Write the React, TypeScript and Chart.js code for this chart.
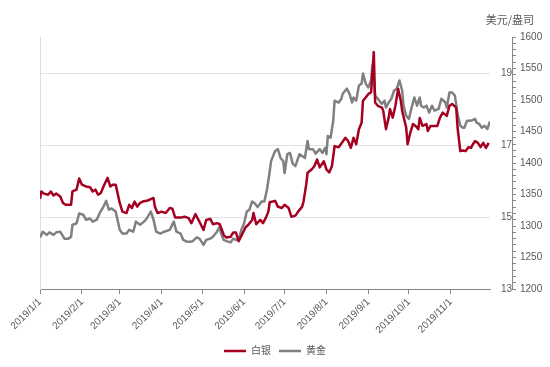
import React, { useEffect, useRef } from "react";
import { Chart, registerables } from "chart.js";

Chart.register(...registerables);

// x positions are days since 2019-01-01
const monthStartDays = [0, 31, 59, 90, 120, 151, 181, 212, 243, 273, 304];
const monthLabels = [
  "2019/1/1", "2019/2/1", "2019/3/1", "2019/4/1", "2019/5/1", "2019/6/1",
  "2019/7/1", "2019/8/1", "2019/9/1", "2019/10/1", "2019/11/1",
];

const silverDays = [
  0, 1, 3, 6, 8, 10, 12, 15, 17, 19, 23, 24, 27, 29, 31, 34, 37, 39, 41, 43, 45, 47, 50, 52, 54, 56,
  59, 61, 64, 66, 68, 70, 72, 74, 76, 79, 81, 84, 85, 87, 90, 93, 96, 98, 100, 102, 105, 107, 110, 112,
  115, 116, 118, 121, 123, 126, 128, 131, 133, 136, 138, 141, 143, 145, 147, 150, 152, 154, 157, 158,
  160, 163, 165, 167, 169, 170, 174, 176, 179, 181, 184, 186, 189, 191, 194, 195, 197, 198, 201, 203,
  205, 207, 210, 212, 214, 216, 218, 221, 223, 226, 228, 230, 232, 234, 236, 238, 239, 241, 243, 245,
  247, 248, 250, 253, 254, 256, 258, 259, 261, 263, 265, 267, 268, 271, 272, 274, 276, 278, 280, 281,
  283, 286, 287, 289, 291, 294, 296, 298, 301, 303, 305, 308, 309, 311, 313, 315, 317, 319, 320, 322,
  324, 326, 328, 330, 332,
];
const silverValues = [
  15.51, 15.71, 15.65, 15.62, 15.71, 15.6, 15.65, 15.57, 15.39, 15.34, 15.34, 15.71, 15.76, 16.07, 15.9,
  15.85, 15.83, 15.71, 15.76, 15.62, 15.67, 15.85, 16.09, 15.85, 15.9, 15.9, 15.39, 15.15, 15.11, 15.34,
  15.25, 15.43, 15.29, 15.39, 15.43, 15.45, 15.48, 15.53, 15.29, 15.11, 15.15, 15.11, 15.25, 15.23,
  14.99, 14.99, 14.99, 15.01, 14.97, 14.83, 15.08, 15.01, 14.87, 14.64, 14.92, 14.95, 14.8, 14.83, 14.8,
  14.5, 14.43, 14.45, 14.57, 14.57, 14.33, 14.55, 14.71, 14.78, 14.92, 15.11, 14.8, 14.92, 14.83, 14.97,
  15.15, 15.41, 15.45, 15.29, 15.25, 15.34, 15.25, 15.01, 15.04, 15.15, 15.29, 15.43, 15.9, 16.23, 16.32,
  16.41, 16.6, 16.38, 16.55, 16.32, 16.24, 16.41, 16.97, 16.94, 17.04, 17.2, 17.11, 16.92, 17.2, 17.02,
  17.44, 17.62, 18.23, 18.32, 18.42, 18.46, 19.58, 18.18, 18.09, 18.04, 17.95, 17.44, 17.76, 18.0,
  17.76, 18.09, 18.56, 18.23, 17.95, 17.48, 17.02, 17.34, 17.58, 17.53, 17.44, 17.75, 17.53, 17.58,
  17.39, 17.53, 17.53, 17.53, 17.76, 17.9, 17.81, 18.09, 18.14, 18.04, 17.48, 16.83, 16.85, 16.83, 16.94,
  16.92, 17.0, 17.11, 17.06, 16.94, 17.06, 16.92, 17.06,
];

const goldDays = [
  0, 2, 5, 7, 10, 12, 15, 18, 21, 23, 24, 27, 29, 32, 34, 37, 39, 42, 44, 47, 49, 51, 53, 56, 59, 61, 64,
  66, 69, 71, 74, 77, 79, 82, 84, 86, 89, 92, 96, 99, 101, 104, 106, 109, 111, 113, 116, 118, 121, 123,
  126, 128, 131, 133, 134, 136, 138, 141, 143, 145, 147, 149, 151, 153, 155, 157, 159, 161, 164, 166,
  168, 170, 171, 174, 176, 178, 180, 181, 183, 185, 187, 189, 192, 194, 196, 198, 199, 202, 204, 207,
  209, 211, 212, 213, 215, 217, 218, 221, 223, 224, 227, 229, 231, 232, 234, 236, 238, 239, 241, 243,
  245, 246, 248, 250, 252, 253, 255, 256, 258, 260, 262, 264, 266, 268, 269, 271, 273, 275, 277, 279,
  281, 282, 284, 286, 288, 290, 292, 295, 297, 300, 301, 303, 305, 307, 309, 311, 313, 314, 316, 318,
  320, 322, 323, 325, 327, 329, 331, 333,
];
const goldValues = [
  1282, 1291, 1286, 1290, 1286, 1290, 1291, 1280, 1280, 1283, 1302, 1304, 1320, 1318, 1310, 1312, 1307,
  1310, 1320, 1331, 1340, 1326, 1328, 1323, 1294, 1288, 1288, 1294, 1291, 1307, 1302, 1307, 1312, 1323,
  1310, 1291, 1288, 1291, 1294, 1307, 1291, 1288, 1278, 1275, 1275, 1276, 1282, 1280, 1270, 1278, 1280,
  1283, 1291, 1299, 1288, 1278, 1276, 1274, 1280, 1278, 1278, 1294, 1304, 1323, 1326, 1339, 1336, 1330,
  1339, 1339, 1358, 1387, 1403, 1419, 1422, 1408, 1403, 1384, 1414, 1416, 1399, 1395, 1414, 1411, 1408,
  1435, 1422, 1422, 1415, 1422, 1416, 1424, 1414, 1443, 1440, 1467, 1499, 1496, 1502, 1510, 1518, 1510,
  1496, 1504, 1499, 1523, 1526, 1542, 1526, 1520, 1531, 1555, 1507, 1502, 1496, 1494, 1499, 1488, 1496,
  1502, 1515, 1518, 1531, 1515, 1491, 1475, 1470, 1488, 1504, 1491, 1504, 1491, 1488, 1491, 1480, 1491,
  1483, 1486, 1502, 1496, 1488, 1512, 1512, 1507, 1478, 1459, 1456, 1456, 1467, 1467, 1468, 1470, 1464,
  1462, 1456, 1459, 1454, 1466,
];

const silverTickValues = [13, 15, 17, 19];
const goldLabelStep = 50;
const goldMinorStep = 10;
const goldMin = 1200;
const goldMax = 1600;

const FONT = "'Liberation Sans', 'Noto Sans CJK SC', sans-serif";
const TEXT = "#595959";

export default function App() {
  const ref = useRef<HTMLCanvasElement | null>(null);
  useEffect(() => {
    if (!ref.current) return;
    const unitPlugin = {
      id: "unitLabel",
      afterDraw(chart: any) {
        const ctx = chart.ctx;
        const g = chart.scales.yg;
        ctx.save();
        ctx.font = `11px 'Noto Sans CJK SC', sans-serif`;
        ctx.fillStyle = TEXT;
        ctx.textAlign = "right";
        ctx.textBaseline = "middle";
        ctx.fillText("美元/盎司", g.right - 16, chart.chartArea.top - 17);
        ctx.restore();
      },
    };
    const chart = new Chart(ref.current, {
      type: "line",
      data: {
        datasets: [
          {
            label: "白银",
            data: silverDays.map((d, i) => ({ x: d, y: silverValues[i] })),
            borderColor: "#a50021",
            backgroundColor: "#a50021",
            borderWidth: 2.5,
            pointRadius: 0,
            yAxisID: "ys",
            borderJoinStyle: "round",
          },
          {
            label: "黄金",
            data: goldDays.map((d, i) => ({ x: d, y: goldValues[i] })),
            borderColor: "#808080",
            backgroundColor: "#808080",
            borderWidth: 2.5,
            pointRadius: 0,
            yAxisID: "yg",
            borderJoinStyle: "round",
          },
        ],
      },
      options: {
        animation: false,
        responsive: true,
        maintainAspectRatio: false,
        layout: { padding: { top: 37, left: 0, right: 0, bottom: 1 } },
        plugins: {
          legend: {
            position: "bottom",
            labels: {
              usePointStyle: true,
              pointStyle: "line",
              pointStyleWidth: 22,
              font: { family: FONT, size: 10 },
              color: TEXT,
              padding: 8,
            },
          },
          tooltip: { enabled: false },
        },
        scales: {
          x: {
            type: "linear",
            min: 0,
            max: 333,
            afterBuildTicks: (s: any) => {
              s.ticks = monthStartDays.map((v) => ({ value: v }));
            },
            ticks: {
              autoSkip: false,
              minRotation: 45,
              maxRotation: 45,
              font: { family: FONT, size: 10 },
              color: TEXT,
              padding: 2,
              callback: (v: any) => monthLabels[monthStartDays.indexOf(Number(v))] ?? "",
            },
            grid: { drawOnChartArea: false, drawTicks: true, tickLength: 5, color: "#888888" },
            border: { display: true, color: "#888888", width: 1 },
          },
          yl: {
            type: "linear",
            position: "left",
            display: true,
            ticks: { display: false },
            grid: { display: false, drawTicks: false },
            border: { display: true, color: "#dddddd", width: 1 },
            afterFit: (s: any) => {
              s.width = 40;
            },
          },
          ys: {
            type: "linear",
            position: "right",
            min: 13,
            max: 20,
            afterBuildTicks: (s: any) => {
              s.ticks = silverTickValues.map((v) => ({ value: v }));
            },
            ticks: {
              font: { family: FONT, size: 10 },
              color: TEXT,
              padding: 0,
              crossAlign: "far",
            },
            grid: { color: "#e2e2e2", drawTicks: false },
            border: { display: false },
            afterFit: (s: any) => {
              s.width = 22;
            },
          },
          yg: {
            type: "linear",
            position: "right",
            min: goldMin,
            max: goldMax,
            afterBuildTicks: (s: any) => {
              const t: any[] = [];
              for (let v = goldMin; v <= goldMax; v += goldMinorStep) t.push({ value: v });
              s.ticks = t;
            },
            ticks: {
              autoSkip: false,
              font: { family: FONT, size: 10 },
              color: TEXT,
              padding: 4,
              callback: (v: any) => (Number(v) % goldLabelStep === 0 ? String(v) : ""),
            },
            grid: { drawOnChartArea: false, drawTicks: true, tickLength: 4, color: "#888888" },
            border: { display: true, color: "#888888", width: 1 },
            afterFit: (s: any) => {
              s.width = 38;
            },
          },
        },
      },
      plugins: [unitPlugin],
    } as any);
    return () => chart.destroy();
  }, []);
  return (
    <div style={{ position: "absolute", left: 0, top: 0, width: 550, height: 367, background: "#fff" }}>
      <canvas ref={ref} />
    </div>
  );
}
